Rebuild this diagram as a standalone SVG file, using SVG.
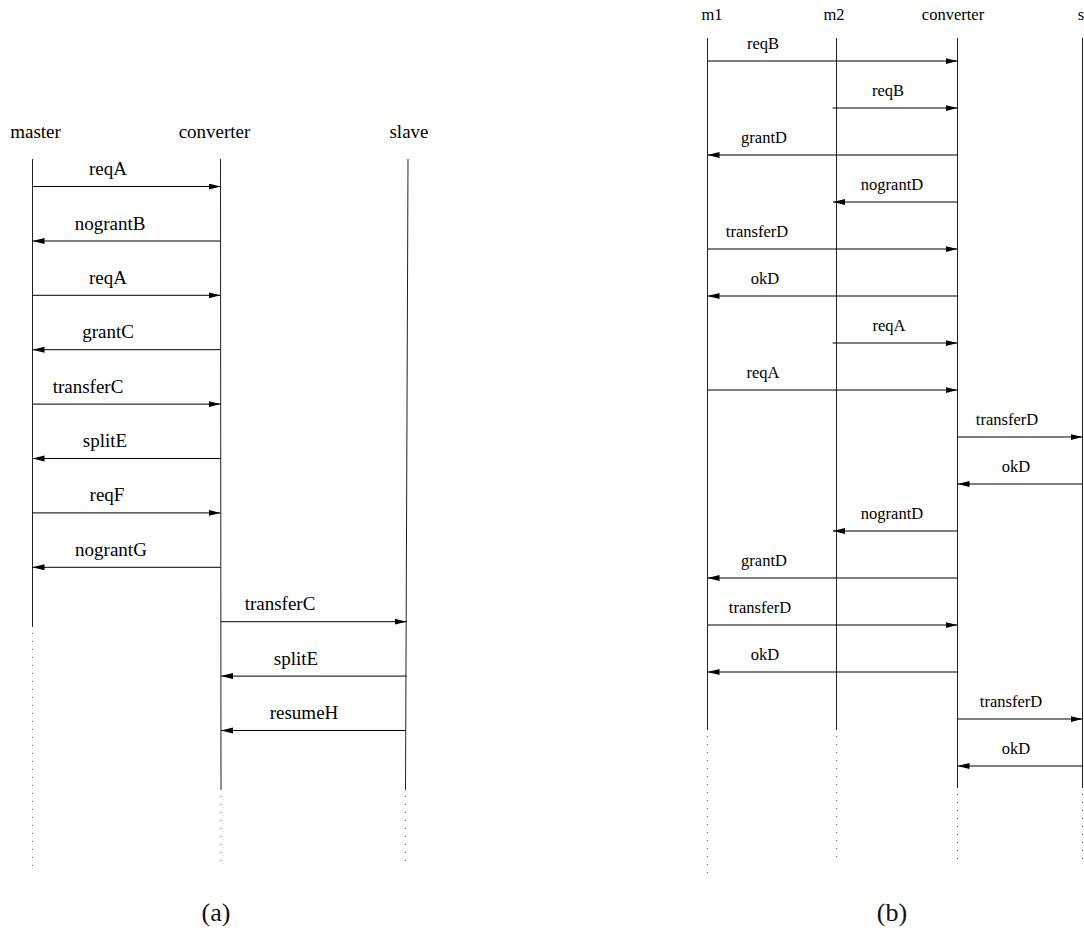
<svg xmlns="http://www.w3.org/2000/svg" width="1084" height="942" viewBox="0 0 1084 942">
  <defs>
    <marker id="head" markerUnits="userSpaceOnUse" markerWidth="13" markerHeight="7" refX="12" refY="3" orient="auto">
      <path d="M0,0 L12,3 L0,6 z" fill="#000"/>
    </marker>
    <style>
      .life { stroke: #222; stroke-width: 1; fill: none; }
      .dots { stroke: #555; stroke-width: 1; stroke-dasharray: 1 7; fill: none; }
      .msg { stroke: #000; stroke-width: 1; fill: none; marker-end: url(#head); }
      .hdrA { font-family: "Liberation Serif", serif; font-size: 19px; fill: #000; text-anchor: middle; }
      .lblA { font-family: "Liberation Serif", serif; font-size: 19px; fill: #000; text-anchor: middle; }
      .hdrB { font-family: "Liberation Serif", serif; font-size: 16.5px; fill: #000; text-anchor: middle; }
      .lblB { font-family: "Liberation Serif", serif; font-size: 16.5px; fill: #000; text-anchor: middle; }
      .cap { font-family: "Liberation Serif", serif; font-size: 26px; fill: #111; text-anchor: middle; }
    </style>
  </defs>
  <rect width="1084" height="942" fill="#fff"/>

  <!-- (a) single master / slave -->
  <g id="a-master">
    <text class="hdrA" x="35.5" y="138">master</text>
    <line class="life" x1="32.5" y1="159" x2="32.5" y2="627"/>
    <line class="dots" x1="32.5" y1="633" x2="32.5" y2="868"/>
  </g>
  <g id="a-converter">
    <text class="hdrA" x="214.5" y="138">converter</text>
    <line class="life" x1="220.5" y1="159" x2="221" y2="790"/>
    <line class="dots" x1="221" y1="796" x2="221" y2="868"/>
  </g>
  <g id="a-slave">
    <text class="hdrA" x="409" y="138">slave</text>
    <line class="life" x1="408" y1="159" x2="405.5" y2="790"/>
    <line class="dots" x1="405.5" y1="796" x2="405.5" y2="868"/>
  </g>

  <g id="a-messages">
    <line class="msg" x1="32.5" y1="186.5" x2="220.5" y2="186.5"/>
    <text class="lblA" x="108" y="175">reqA</text>
    <line class="msg" x1="220.5" y1="241" x2="32.5" y2="241"/>
    <text class="lblA" x="110" y="229.5">nograntB</text>
    <line class="msg" x1="32.5" y1="295.3" x2="220.5" y2="295.3"/>
    <text class="lblA" x="108" y="283.8">reqA</text>
    <line class="msg" x1="220.5" y1="349.7" x2="32.5" y2="349.7"/>
    <text class="lblA" x="108" y="338.2">grantC</text>
    <line class="msg" x1="32.5" y1="404.1" x2="220.5" y2="404.1"/>
    <text class="lblA" x="88" y="392.6">transferC</text>
    <line class="msg" x1="220.5" y1="458.5" x2="32.5" y2="458.5"/>
    <text class="lblA" x="105" y="447">splitE</text>
    <line class="msg" x1="32.5" y1="512.9" x2="220.5" y2="512.9"/>
    <text class="lblA" x="107" y="501.4">reqF</text>
    <line class="msg" x1="220.5" y1="567.3" x2="32.5" y2="567.3"/>
    <text class="lblA" x="111" y="555.8">nograntG</text>
    <line class="msg" x1="221" y1="621.7" x2="406.5" y2="621.7"/>
    <text class="lblA" x="280" y="610.2">transferC</text>
    <line class="msg" x1="406.5" y1="676.1" x2="221" y2="676.1"/>
    <text class="lblA" x="296" y="664.6">splitE</text>
    <line class="msg" x1="406" y1="730.5" x2="221" y2="730.5"/>
    <text class="lblA" x="304" y="719">resumeH</text>
  </g>

  <text id="cap-a" class="cap" x="216" y="921">(a)</text>

  <!-- (b) two masters -->
  <g id="b-m1">
    <text class="hdrB" x="712" y="20">m1</text>
    <line class="life" x1="707.5" y1="38" x2="707.5" y2="730"/>
    <line class="dots" x1="707.5" y1="736" x2="707.5" y2="873"/>
  </g>
  <g id="b-m2">
    <text class="hdrB" x="834" y="20">m2</text>
    <line class="life" x1="836.5" y1="38" x2="836.5" y2="730"/>
    <line class="dots" x1="836.5" y1="736" x2="836.5" y2="861"/>
  </g>
  <g id="b-converter">
    <text class="hdrB" x="953" y="20">converter</text>
    <line class="life" x1="957.5" y1="38" x2="957.5" y2="788"/>
    <line class="dots" x1="957.5" y1="794" x2="957.5" y2="859"/>
  </g>
  <g id="b-s">
    <text class="hdrB" x="1081" y="20">s</text>
    <line class="life" x1="1082.5" y1="38" x2="1082.5" y2="788"/>
    <line class="dots" x1="1082.5" y1="794" x2="1082.5" y2="859"/>
  </g>

  <g id="b-messages">
    <line class="msg" x1="707.5" y1="61" x2="957.5" y2="61"/>
    <text class="lblB" x="763" y="48.5">reqB</text>
    <line class="msg" x1="832.5" y1="108" x2="957.5" y2="108"/>
    <text class="lblB" x="888" y="95.5">reqB</text>
    <line class="msg" x1="957.5" y1="155" x2="707.5" y2="155"/>
    <text class="lblB" x="764" y="142.5">grantD</text>
    <line class="msg" x1="957.5" y1="202" x2="833" y2="202"/>
    <text class="lblB" x="892" y="189.5">nograntD</text>
    <line class="msg" x1="707.5" y1="249" x2="957.5" y2="249"/>
    <text class="lblB" x="757" y="236.5">transferD</text>
    <line class="msg" x1="957.5" y1="296" x2="707.5" y2="296"/>
    <text class="lblB" x="765" y="283.5">okD</text>
    <line class="msg" x1="832.5" y1="343" x2="957.5" y2="343"/>
    <text class="lblB" x="889" y="330.5">reqA</text>
    <line class="msg" x1="707.5" y1="390" x2="957.5" y2="390"/>
    <text class="lblB" x="763" y="377.5">reqA</text>
    <line class="msg" x1="957.5" y1="437" x2="1082.5" y2="437"/>
    <text class="lblB" x="1007" y="424.5">transferD</text>
    <line class="msg" x1="1082.5" y1="484" x2="957.5" y2="484"/>
    <text class="lblB" x="1016" y="471.5">okD</text>
    <line class="msg" x1="957.5" y1="531" x2="833" y2="531"/>
    <text class="lblB" x="892" y="518.5">nograntD</text>
    <line class="msg" x1="957.5" y1="578" x2="707.5" y2="578"/>
    <text class="lblB" x="764" y="565.5">grantD</text>
    <line class="msg" x1="707.5" y1="625" x2="957.5" y2="625"/>
    <text class="lblB" x="760" y="612.5">transferD</text>
    <line class="msg" x1="957.5" y1="672" x2="707.5" y2="672"/>
    <text class="lblB" x="765" y="659.5">okD</text>
    <line class="msg" x1="957.5" y1="719" x2="1082.5" y2="719"/>
    <text class="lblB" x="1011" y="706.5">transferD</text>
    <line class="msg" x1="1082.5" y1="766" x2="957.5" y2="766"/>
    <text class="lblB" x="1016" y="753.5">okD</text>
  </g>

  <text id="cap-b" class="cap" x="892" y="921">(b)</text>
</svg>
